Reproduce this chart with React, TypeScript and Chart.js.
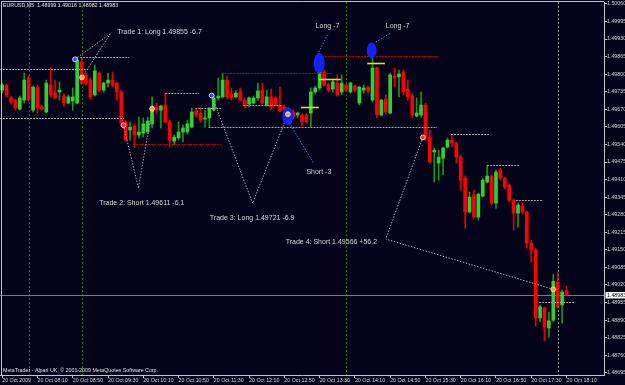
import React, { useEffect, useRef } from "react";
import { Chart, registerables } from "chart.js";

Chart.register(...registerables);

// EURUSD M5 candles, 20 Oct 2009, 07:30 .. 18:10
const OPEN = [
  1.49741, 1.4976, 1.49712, 1.49704, 1.49671, 1.49704, 1.49786, 1.49667, 1.49752, 1.49679,
  1.4966, 1.4976, 1.4973, 1.49734, 1.49719, 1.49693, 1.49701, 1.49693, 1.49845, 1.49797,
  1.49778, 1.49723, 1.49804, 1.49741, 1.49767, 1.49778, 1.49767, 1.49734, 1.49623, 1.49593,
  1.49608, 1.49575, 1.49582, 1.49586, 1.49616, 1.49679, 1.49667, 1.49686, 1.49623, 1.49552,
  1.49564, 1.49586, 1.49586, 1.49604, 1.49664, 1.49656, 1.49634, 1.49638, 1.49667, 1.49712,
  1.49716, 1.49778, 1.49727, 1.49716, 1.49734, 1.49704, 1.4969, 1.49693, 1.49712, 1.49741,
  1.49686, 1.49716, 1.49712, 1.49682, 1.49679, 1.49667, 1.4966, 1.49649, 1.49649, 1.49649,
  1.49656, 1.49734, 1.49749, 1.49808, 1.4976, 1.49745, 1.49767, 1.49734, 1.4976, 1.49734,
  1.49756, 1.49693, 1.49741, 1.49752, 1.49704, 1.49823, 1.49649, 1.49708, 1.49656, 1.49793,
  1.4979, 1.49808, 1.49745, 1.49719, 1.49645, 1.49649, 1.49686, 1.49567, 1.49512, 1.49471,
  1.49489, 1.4953, 1.49556, 1.49545, 1.49493, 1.49415, 1.4929, 1.49353, 1.49271, 1.49349,
  1.49401, 1.49423, 1.49323, 1.49445, 1.49415, 1.4939, 1.49334, 1.49286, 1.49312, 1.4929,
  1.49175, 1.49149, 1.48898, 1.48935, 1.48861, 1.4889, 1.49031, 1.48946, 1.48999,
];
const HIGH = [
  1.49767, 1.49764, 1.49719, 1.49708, 1.49719, 1.49804, 1.49793, 1.49756, 1.4976, 1.49686,
  1.49778, 1.49826, 1.49778, 1.49771, 1.49727, 1.49723, 1.49749, 1.49864, 1.4986, 1.49804,
  1.49786, 1.49834, 1.49808, 1.49771, 1.49804, 1.49808, 1.49771, 1.49741, 1.4963, 1.49623,
  1.49616, 1.49641, 1.49638, 1.49641, 1.49716, 1.49693, 1.49686, 1.4973, 1.4963, 1.49575,
  1.49623, 1.49612, 1.4963, 1.49675, 1.49671, 1.49675, 1.49667, 1.49675, 1.49723, 1.49786,
  1.49804, 1.49793, 1.49749, 1.49738, 1.49749, 1.49712, 1.49716, 1.49719, 1.49767, 1.49767,
  1.49741, 1.49745, 1.49719, 1.49752, 1.49686, 1.49675, 1.49667, 1.4966, 1.49653, 1.49656,
  1.49749, 1.49756, 1.49864, 1.49815, 1.49767, 1.49778, 1.49797, 1.49797, 1.49764, 1.49771,
  1.4976, 1.49756, 1.4976, 1.49756, 1.49897, 1.49826, 1.49708, 1.49723, 1.49804, 1.49823,
  1.49815, 1.49815, 1.49778, 1.49727, 1.49712, 1.49734, 1.49693, 1.49593, 1.49527, 1.49519,
  1.4953, 1.49564, 1.49575, 1.49549, 1.49501, 1.49423, 1.49364, 1.49371, 1.4936, 1.49415,
  1.49464, 1.49427, 1.49445, 1.49452, 1.49419, 1.49393, 1.49338, 1.49323, 1.49323, 1.49293,
  1.49186, 1.49156, 1.48946, 1.48939, 1.4892, 1.4906, 1.49068, 1.49001, 1.49016,
];
const LOW = [
  1.4973, 1.49716, 1.4969, 1.49667, 1.49667, 1.49693, 1.49701, 1.4966, 1.49656, 1.49667,
  1.49656, 1.49716, 1.49708, 1.49704, 1.49682, 1.4969, 1.49667, 1.4969, 1.4976, 1.4976,
  1.49708, 1.49719, 1.49734, 1.49734, 1.49752, 1.49752, 1.49704, 1.49612, 1.49552, 1.49556,
  1.4953, 1.49564, 1.49567, 1.49582, 1.49601, 1.49656, 1.49601, 1.49619, 1.4953, 1.49538,
  1.49556, 1.49549, 1.49578, 1.49601, 1.49641, 1.49623, 1.49604, 1.49604, 1.49664, 1.49704,
  1.49712, 1.49708, 1.49704, 1.49712, 1.49701, 1.49675, 1.49679, 1.4969, 1.49704, 1.4969,
  1.49682, 1.49667, 1.49682, 1.4966, 1.4966, 1.49612, 1.49634, 1.49638, 1.49608, 1.49619,
  1.49604, 1.49727, 1.49741, 1.49756, 1.49734, 1.49734, 1.49719, 1.49723, 1.49734, 1.4973,
  1.49734, 1.49686, 1.4973, 1.4973, 1.49697, 1.49638, 1.49645, 1.49653, 1.49653, 1.49752,
  1.49716, 1.49723, 1.49704, 1.49641, 1.49641, 1.49641, 1.49556, 1.49471, 1.49401, 1.49408,
  1.49427, 1.49527, 1.4953, 1.49471, 1.49371, 1.4923, 1.49286, 1.49267, 1.4926, 1.49345,
  1.49397, 1.49316, 1.49304, 1.49408, 1.49375, 1.49327, 1.49223, 1.49234, 1.49282, 1.49156,
  1.49105, 1.48868, 1.48883, 1.48813, 1.48828, 1.48883, 1.48935, 1.48879, 1.48982,
];
const CLOSE = [
  1.4976, 1.49723, 1.49697, 1.49675, 1.49712, 1.49778, 1.49704, 1.49752, 1.49675, 1.49671,
  1.49767, 1.49723, 1.49712, 1.49741, 1.49693, 1.49716, 1.49716, 1.49852, 1.49767, 1.49767,
  1.49716, 1.49812, 1.49741, 1.49767, 1.49778, 1.4976, 1.49734, 1.49619, 1.49556, 1.49604,
  1.49575, 1.49586, 1.49616, 1.49627, 1.49675, 1.49667, 1.49682, 1.49623, 1.49556, 1.49567,
  1.49586, 1.49601, 1.49616, 1.4966, 1.49649, 1.4963, 1.49638, 1.49675, 1.49712, 1.49719,
  1.49778, 1.49716, 1.49712, 1.4973, 1.49704, 1.49682, 1.49712, 1.49712, 1.49738, 1.49693,
  1.49716, 1.49679, 1.49686, 1.49664, 1.49667, 1.49638, 1.49641, 1.49656, 1.49623, 1.49623,
  1.49734, 1.49749, 1.49815, 1.4976, 1.49741, 1.49771, 1.49723, 1.49767, 1.49741, 1.49767,
  1.49741, 1.49752, 1.49749, 1.49738, 1.49823, 1.49649, 1.49704, 1.4966, 1.49797, 1.49786,
  1.49801, 1.49734, 1.49716, 1.49649, 1.49656, 1.49686, 1.49564, 1.49475, 1.49519, 1.49493,
  1.49527, 1.49556, 1.49545, 1.49493, 1.49408, 1.4929, 1.49345, 1.49271, 1.49356, 1.49408,
  1.49423, 1.49323, 1.49438, 1.49415, 1.49382, 1.49334, 1.49286, 1.49316, 1.4929, 1.49175,
  1.49149, 1.48898, 1.48939, 1.48865, 1.48887, 1.49034, 1.48939, 1.48994, 1.48983,
];

const SLOT_COUNT = 137; // bars + chart shift space
const TIME_TICKS = [
  "20 Oct 2009", "20 Oct 08:10", "20 Oct 08:50", "20 Oct 09:30", "20 Oct 10:10", "20 Oct 10:50",
  "20 Oct 11:30", "20 Oct 12:10", "20 Oct 12:50", "20 Oct 13:30", "20 Oct 14:10", "20 Oct 14:50",
  "20 Oct 15:30", "20 Oct 16:10", "20 Oct 16:50", "20 Oct 17:30", "20 Oct 18:10",
];
const TIME_TICK_STEP = 8;
const PRICE_TICKS = [
  1.5006, 1.49995, 1.4993, 1.49865, 1.498, 1.49735, 1.4967, 1.49605, 1.4954, 1.49475, 1.4941,
  1.49345, 1.4928, 1.49215, 1.4915, 1.49085, 1.4902, 1.48955, 1.4889, 1.48825, 1.4876, 1.48695,
];
const PRICE_MIN = 1.48687;
const PRICE_MAX = 1.50067;
const BID = 1.48983;
const TITLE = "EURUSD,M5  1.48999 1.49016 1.48982 1.48983";
const FOOTER = "MetaTrader - Alpari UK, \u00a9 2001-2009 MetaQuotes Software Corp.";

// vertical separators (bar index)
const SESSION_GREEN = [6, 18, 78];
const SESSION_GRAY = [126];

// horizontal objects: [fromIndex, toIndex, price]
const GRAY_LEVELS = [
  [-0.5, 19.5, 1.49819], [-0.5, 27.7, 1.49638], [17.7, 28.8, 1.49864], [37, 44.7, 1.49732],
  [43.8, 50, 1.49675], [46.8, 98.6, 1.49604], [54.7, 63.6, 1.49686], [101.8, 110.6, 1.49579],
  [110, 117.5, 1.49464], [116.5, 122.7, 1.49334], [121.8, 129.7, 1.48957],
];
const RED_LEVELS = [[29.7, 49.7, 1.49542], [49.7, 74.7, 1.49804], [71.8, 98.8, 1.49868]];
const YELLOW_LEVELS = [[67.8, 71.8, 1.49679], [71.8, 76.8, 1.49781], [82.8, 86.8, 1.49843]];

// trades
const TRADE_TEXT = [
  "Trade 1: Long 1.49855 -6.7", "Trade 2: Short 1.49611 -6.1",
  "Trade 3: Long 1.49721 -6.9", "Trade 4: Short 1.49566 +56.2",
];
const TRADE_LONG = [true, false, true, false];
const ENTRY_IDX = [16.5, 27.5, 47.5, 95.4];
const ENTRY_PRICE = [1.49855, 1.49611, 1.49721, 1.49566];
const EXIT_IDX = [18.1, 34, 64.8, 125];
const EXIT_PRICE = [1.49788, 1.49672, 1.49652, 1.49004];
const TIP_IDX = [24.5, 30.9, 56.8, 87];
const TIP_PRICE = [1.49949, 1.49379, 1.49323, 1.4919];
const TEXT_IDX = [26.1, 22, 47.1, 64.3];
const TEXT_PRICE = [1.49956, 1.49323, 1.49268, 1.49179];

// position notes
const NOTE_TEXT = ["Short -3", "Long -7", "Long -7"];
const NOTE_IDX = [69, 71.1, 87];
const NOTE_PRICE = [1.49438, 1.49978, 1.49978];
const NOTE_FROM_IDX = [64.8, 71.8, 84.7];
const NOTE_FROM_PRICE = [1.4963, 1.49882, 1.49919];
const NOTE_TO_IDX = [70.6, 74.0, 88.1];
const NOTE_TO_PRICE = [1.49471, 1.49952, 1.49952];
const ELLIPSE_IDX = [64.8, 71.9, 83.8];
const ELLIPSE_PRICE = [1.49645, 1.49841, 1.49888];
const ELLIPSE_RX = [5.5, 5.5, 5];
const ELLIPSE_RY = [9, 10, 8];

const BG = "#03031a";
const FRAME = "#c4c4c4";
const TEXT = "#d6d6d6";
const FONT = "'Liberation Sans', Arial, sans-serif";

export default function App() {
  const ref = useRef<HTMLCanvasElement>(null);

  useEffect(() => {
    const canvas = ref.current!;
    const labels = Array.from({ length: SLOT_COUNT }, (_, i) => String(i));
    const bull = OPEN.map((o, i) => CLOSE[i] >= o);

    const X = (c: any, i: number) => c.scales.x.getPixelForValue(i);
    const Y = (c: any, p: number) => c.scales.y.getPixelForValue(p);

    const seg = (ctx: CanvasRenderingContext2D, x1: number, y1: number, x2: number, y2: number, color: string, dash: number[], w = 1) => {
      ctx.save();
      ctx.strokeStyle = color;
      ctx.lineWidth = w;
      ctx.setLineDash(dash);
      ctx.beginPath();
      ctx.moveTo(x1, y1);
      ctx.lineTo(x2, y2);
      ctx.stroke();
      ctx.restore();
    };
    const marker = (ctx: CanvasRenderingContext2D, x: number, y: number, fill: string, ring: string) => {
      ctx.save();
      ctx.beginPath();
      ctx.arc(x, y, 2.4, 0, Math.PI * 2);
      ctx.fillStyle = fill;
      ctx.fill();
      ctx.lineWidth = 0.9;
      ctx.strokeStyle = ring;
      ctx.stroke();
      ctx.restore();
    };

    const overlay = {
      id: "mt4overlay",
      beforeDraw(c: any) {
        const ctx = c.ctx;
        ctx.save();
        ctx.fillStyle = BG;
        ctx.fillRect(0, 0, c.width, c.height);
        ctx.restore();
      },
      beforeDatasetsDraw(c: any) {
        const ctx = c.ctx;
        const a = c.chartArea;
        SESSION_GREEN.forEach((i) => {
          const x = Math.round(X(c, i)) + 0.5;
          seg(ctx, x, a.top, x, a.bottom, "#0b7d0b", [2, 2]);
        });
        SESSION_GRAY.forEach((i) => {
          const x = Math.round(X(c, i)) + 0.5;
          seg(ctx, x, a.top, x, a.bottom, "#8c8c8c", [2, 2]);
        });
        const yb = Math.round(Y(c, BID)) + 0.5;
        seg(ctx, a.left, yb, a.right, yb, "#6f806f", []);
      },
      afterDatasetsDraw(c: any) {
        const ctx = c.ctx;
        const a = c.chartArea;
        ctx.save();
        ctx.beginPath();
        ctx.rect(a.left, a.top, a.right - a.left, a.bottom - a.top);
        ctx.clip();
        const hl = (arr: number[][], color: string, dash: number[], w: number) => {
          arr.forEach(([i1, i2, p]) => {
            const y = Math.round(Y(c, p)) + 0.5;
            seg(ctx, X(c, i1), y, X(c, i2), y, color, dash, w);
          });
        };
        hl(GRAY_LEVELS, "#a2a2a2", [2, 1], 1);
        hl(RED_LEVELS, "#c80000", [2, 1], 1);
        hl(YELLOW_LEVELS, "#e4e400", [], 1.6);

        // trade connectors
        for (let t = 0; t < TRADE_TEXT.length; t++) {
          const tx = X(c, TIP_IDX[t]);
          const ty = Y(c, TIP_PRICE[t]);
          seg(ctx, X(c, ENTRY_IDX[t]), Y(c, ENTRY_PRICE[t]), tx, ty, "#a8a8a8", [1.5, 1.5]);
          seg(ctx, X(c, EXIT_IDX[t]), Y(c, EXIT_PRICE[t]), tx, ty, "#a8a8a8", [1.5, 1.5]);
        }
        // ellipses
        for (let k = 0; k < ELLIPSE_IDX.length; k++) {
          ctx.beginPath();
          ctx.ellipse(X(c, ELLIPSE_IDX[k]), Y(c, ELLIPSE_PRICE[k]), ELLIPSE_RX[k], ELLIPSE_RY[k], 0, 0, Math.PI * 2);
          ctx.fillStyle = "#1222ff";
          ctx.fill();
        }
        // note connectors
        for (let k = 0; k < NOTE_TEXT.length; k++) {
          seg(ctx, X(c, NOTE_FROM_IDX[k]), Y(c, NOTE_FROM_PRICE[k]), X(c, NOTE_TO_IDX[k]), Y(c, NOTE_TO_PRICE[k]), "#3a78c8", [1.5, 1.5]);
        }
        // markers
        for (let t = 0; t < TRADE_TEXT.length; t++) {
          marker(ctx, X(c, ENTRY_IDX[t]), Y(c, ENTRY_PRICE[t]), TRADE_LONG[t] ? "#2a46ff" : "#ff2a2a", "#e8e8e8");
          marker(ctx, X(c, EXIT_IDX[t]), Y(c, EXIT_PRICE[t]), "#f0a838", "#ffe0a8");
        }
        // texts
        ctx.fillStyle = TEXT;
        ctx.font = `7px ${FONT}`;
        ctx.textBaseline = "middle";
        ctx.textAlign = "left";
        for (let t = 0; t < TRADE_TEXT.length; t++) {
          ctx.fillText(TRADE_TEXT[t], X(c, TEXT_IDX[t]), Y(c, TEXT_PRICE[t]));
        }
        for (let k = 0; k < NOTE_TEXT.length; k++) {
          ctx.fillText(NOTE_TEXT[k], X(c, NOTE_IDX[k]), Y(c, NOTE_PRICE[k]));
        }
        ctx.restore();
      },
      afterDraw(c: any) {
        const ctx = c.ctx;
        const a = c.chartArea;
        ctx.save();
        // frame
        seg(ctx, 1.5, 1.5, a.right, 1.5, FRAME, []);
        seg(ctx, 1.5, 1.5, 1.5, a.bottom, FRAME, []);
        // title and footer
        ctx.fillStyle = "#e2e2e2";
        ctx.font = `5.3px ${FONT}`;
        ctx.textBaseline = "middle";
        ctx.textAlign = "left";
        ctx.fillText(TITLE, 3, 6);
        ctx.fillText(FOOTER, 3, 371);
        // bid label on price axis
        const yb = Y(c, BID);
        ctx.fillStyle = "#ffffff";
        ctx.fillRect(a.right + 1.5, yb - 3, 22, 6.5);
        ctx.fillStyle = "#000000";
        ctx.fillText(BID.toFixed(5), a.right + 3, yb + 0.3);
        ctx.restore();
      },
    };

    const chart = new Chart(canvas, {
      type: "bar",
      data: {
        labels,
        datasets: [
          {
            label: "wick",
            data: LOW.map((l, i) => [l, HIGH[i]]),
            backgroundColor: bull.map((b) => (b ? "#149a14" : "#e40000")),
            barThickness: 1,
            grouped: false,
            order: 2,
            borderWidth: 0,
          } as any,
          {
            label: "body",
            data: OPEN.map((o, i) => [o, CLOSE[i]]),
            backgroundColor: bull.map((b) => (b ? "#30d030" : "#ff0000")),
            barThickness: 3,
            grouped: false,
            order: 1,
            borderWidth: 0,
            minBarLength: 1,
          } as any,
        ],
      },
      options: {
        responsive: false,
        maintainAspectRatio: false,
        devicePixelRatio: 1,
        animation: false,
        events: [],
        layout: { padding: { top: 2, left: 0, right: 0, bottom: 0 } },
        plugins: { legend: { display: false }, tooltip: { enabled: false } },
        scales: {
          x: {
            type: "category",
            offset: true,
            border: { display: true, color: FRAME, width: 1 },
            grid: {
              display: true,
              offset: false,
              drawOnChartArea: false,
              drawTicks: true,
              tickLength: 3,
              color: (ctx: any) =>
                ctx.index % TIME_TICK_STEP === 0 && ctx.index / TIME_TICK_STEP < TIME_TICKS.length ? FRAME : "rgba(0,0,0,0)",
            },
            ticks: {
              autoSkip: false,
              maxRotation: 0,
              minRotation: 0,
              align: "start",
              padding: 0,
              color: TEXT,
              font: { family: FONT, size: 5.3, lineHeight: 1 },
              callback: (_v: any, idx: number) =>
                idx % TIME_TICK_STEP === 0 && idx / TIME_TICK_STEP < TIME_TICKS.length ? TIME_TICKS[idx / TIME_TICK_STEP] : "",
            },
            afterFit: (s: any) => {
              s.height = 10;
              s.paddingLeft = 0;
              s.paddingRight = 0;
            },
          } as any,
          y: {
            type: "linear",
            position: "right",
            min: PRICE_MIN,
            max: PRICE_MAX,
            border: { display: true, color: FRAME, width: 1 },
            grid: { display: true, drawOnChartArea: false, tickLength: 3, color: FRAME },
            afterBuildTicks: (s: any) => {
              s.ticks = PRICE_TICKS.map((v) => ({ value: v }));
            },
            ticks: {
              autoSkip: false,
              padding: 0,
              color: TEXT,
              font: { family: FONT, size: 5.3, lineHeight: 1 },
              callback: (v: any) => Number(v).toFixed(5),
            },
            afterFit: (s: any) => {
              s.width = 21;
              s.paddingTop = 0;
              s.paddingBottom = 0;
            },
          } as any,
        },
      },
      plugins: [overlay],
    } as any);

    return () => chart.destroy();
  }, []);

  return (
    <div style={{ position: "fixed", left: 0, top: 0, width: 625, height: 385, background: BG }}>
      <canvas ref={ref} width={625} height={385} style={{ display: "block", width: 625, height: 385 }} />
    </div>
  );
}
